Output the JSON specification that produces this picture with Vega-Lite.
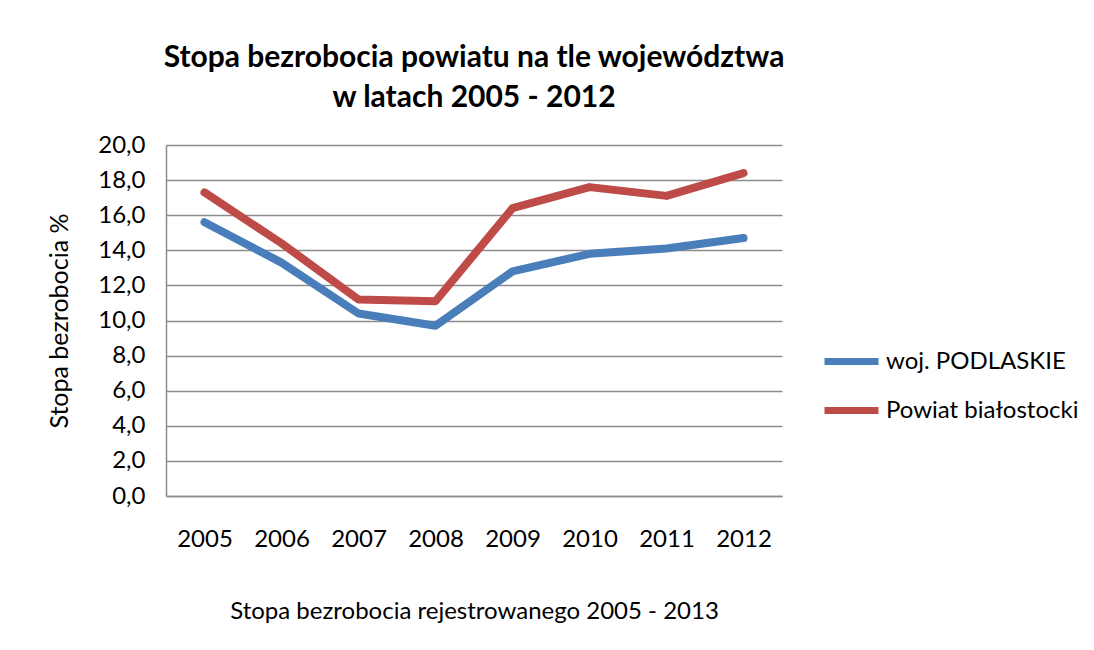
{
  "$schema": "https://vega.github.io/schema/vega-lite/v6.json",
  "autosize": "none",
  "width": 616,
  "height": 351,
  "padding": {"left": 166, "top": 145, "right": 312, "bottom": 154},
  "background": "white",
  "config": {
    "locale": {"number": {"decimal": ",", "thousands": " ", "grouping": [3], "currency": ["", " zł"]}},
    "font": "Lato",
    "view": {"stroke": null}
  },
  "title": {
    "text": ["Stopa bezrobocia powiatu na tle województwa", "w latach 2005 - 2012"],
    "font": "Lato",
    "fontSize": 30,
    "fontWeight": "bold",
    "color": "#000000",
    "anchor": "middle",
    "lineHeight": 40,
    "offset": 20
  },
  "data": {
    "values": [
      {"rok": "2005", "seria": "woj. PODLASKIE", "stopa": 15.6},
      {"rok": "2006", "seria": "woj. PODLASKIE", "stopa": 13.3},
      {"rok": "2007", "seria": "woj. PODLASKIE", "stopa": 10.4},
      {"rok": "2008", "seria": "woj. PODLASKIE", "stopa": 9.7},
      {"rok": "2009", "seria": "woj. PODLASKIE", "stopa": 12.8},
      {"rok": "2010", "seria": "woj. PODLASKIE", "stopa": 13.8},
      {"rok": "2011", "seria": "woj. PODLASKIE", "stopa": 14.1},
      {"rok": "2012", "seria": "woj. PODLASKIE", "stopa": 14.7},
      {"rok": "2005", "seria": "Powiat białostocki", "stopa": 17.3},
      {"rok": "2006", "seria": "Powiat białostocki", "stopa": 14.4},
      {"rok": "2007", "seria": "Powiat białostocki", "stopa": 11.2},
      {"rok": "2008", "seria": "Powiat białostocki", "stopa": 11.1},
      {"rok": "2009", "seria": "Powiat białostocki", "stopa": 16.4},
      {"rok": "2010", "seria": "Powiat białostocki", "stopa": 17.6},
      {"rok": "2011", "seria": "Powiat białostocki", "stopa": 17.1},
      {"rok": "2012", "seria": "Powiat białostocki", "stopa": 18.4}
    ]
  },
  "mark": {"type": "line", "strokeWidth": 8, "strokeCap": "round", "strokeJoin": "round"},
  "encoding": {
    "x": {
      "field": "rok",
      "type": "ordinal",
      "scale": {"type": "point", "padding": 0.5},
      "axis": {
        "title": "Stopa bezrobocia rejestrowanego 2005 - 2013",
        "titleFont": "Lato",
        "titleFontSize": 24,
        "titleFontWeight": "normal",
        "titleColor": "#000000",
        "titlePadding": 48,
        "labelFont": "Lato",
        "labelFontSize": 24,
        "labelColor": "#000000",
        "labelAngle": 0,
        "labelPadding": 31,
        "ticks": false,
        "domainColor": "#8c8c8c",
        "domainWidth": 1.5
      }
    },
    "y": {
      "field": "stopa",
      "type": "quantitative",
      "scale": {"domain": [0, 20], "nice": false},
      "axis": {
        "title": "Stopa bezrobocia %",
        "titleFont": "Lato",
        "titleFontSize": 25,
        "titleFontWeight": "normal",
        "titleColor": "#000000",
        "titlePadding": 25,
        "values": [0, 2, 4, 6, 8, 10, 12, 14, 16, 18, 20],
        "format": ".1f",
        "labelFont": "Lato",
        "labelFontSize": 24,
        "labelColor": "#000000",
        "labelPadding": 21,
        "ticks": false,
        "domainColor": "#8c8c8c",
        "domainWidth": 1.5,
        "grid": true,
        "gridColor": "#8c8c8c",
        "gridWidth": 1.5
      }
    },
    "color": {
      "field": "seria",
      "type": "nominal",
      "sort": ["woj. PODLASKIE", "Powiat białostocki"],
      "scale": {"domain": ["woj. PODLASKIE", "Powiat białostocki"], "range": ["#4A7EBB", "#BE4B48"]},
      "legend": {
        "title": null,
        "orient": "none",
        "legendX": 655,
        "legendY": 186,
        "symbolType": "stroke",
        "symbolSize": 2916,
        "symbolStrokeWidth": 7,
        "labelFont": "Lato",
        "labelFontSize": 24,
        "labelColor": "#000000",
        "labelOffset": 4,
        "labelLimit": 400,
        "rowPadding": 4
      }
    }
  }
}
